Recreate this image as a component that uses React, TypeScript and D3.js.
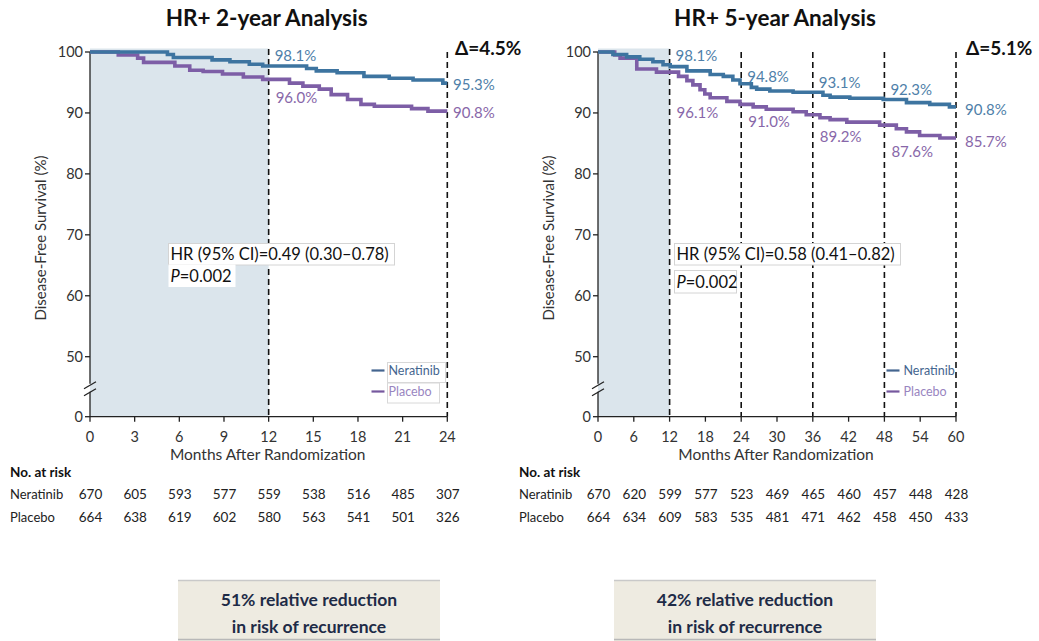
import React from "react";
import * as d3 from "d3";

const W = 1039;
const H = 641;
const FONT = "Lato, 'Open Sans', sans-serif";

// ---------- data ----------
const yTicks = [0, 50, 60, 70, 80, 90, 100];

const months2y = [0, 3, 6, 9, 12, 15, 18, 21, 24];
const neratinibRisk2y = [670, 605, 593, 577, 559, 538, 516, 485, 307];
const placeboRisk2y = [664, 638, 619, 602, 580, 563, 541, 501, 326];

const months5y = [0, 6, 12, 18, 24, 30, 36, 42, 48, 54, 60];
const neratinibRisk5y = [670, 620, 599, 577, 523, 469, 465, 460, 457, 448, 428];
const placeboRisk5y = [664, 634, 609, 583, 535, 481, 471, 462, 458, 450, 433];

// Kaplan–Meier step curves [month, DFS %]
const neratinib2y: [number, number][] = [
  [0, 100], [5.2, 99.6], [5.6, 99.1], [8.2, 98.7], [9.4, 98.4], [10.7, 98.0], [11.6, 97.7],
  [14.55, 97.3], [15.2, 96.9], [16.6, 96.6], [18.4, 96.0], [20.1, 95.7], [21.7, 95.4],
  [23.7, 94.9], [24, 94.9],
];
const placebo2y: [number, number][] = [
  [0, 100], [1.9, 99.5], [3.2, 99.0], [3.6, 98.3], [5.7, 97.7], [6.7, 97.0], [7.6, 96.8],
  [8.9, 96.4], [10.3, 95.9], [11.6, 95.5], [13.4, 94.9], [14.3, 94.4], [15.4, 93.9],
  [16.2, 93.0], [17.3, 92.2], [18.2, 91.4], [19.1, 91.1], [21.6, 90.7], [22.7, 90.3], [24, 90.3],
];
const neratinib5y: [number, number][] = [
  [0, 100], [2.5, 99.6], [4.8, 99.2], [7.0, 98.8], [9.2, 98.4], [10.9, 97.9], [12.1, 97.6],
  [14.9, 96.9], [18.8, 96.3], [21, 96.0], [22.6, 95.4], [23.8, 94.8], [25.7, 94.2],
  [26.6, 93.9], [28.8, 93.6], [32.7, 93.4], [37.7, 92.9], [38.9, 92.6], [42.2, 92.4],
  [47.8, 92.2], [51.7, 91.7], [55.6, 91.4], [58.9, 91.0], [60, 91.0],
];
const placebo5y: [number, number][] = [
  [0, 100], [2.8, 99.5], [3.7, 99.0], [6.5, 97.2], [9.8, 96.7], [13.5, 96.0], [14.9, 95.3],
  [15.9, 94.6], [17.1, 93.8], [17.9, 93.1], [18.8, 92.5], [21.6, 91.9], [23.8, 91.4],
  [26.0, 91.0], [28.2, 90.6], [32.7, 90.2], [34.9, 89.7], [37.2, 89.2], [38.9, 88.9],
  [41.7, 88.5], [47.2, 88.0], [50, 87.4], [51.7, 86.9], [53.9, 86.3], [57.3, 85.9], [60, 85.9],
];

// landmark annotations [month, text, label centre y]
const labels2yNer: [number, string, number][] = [[12, "98.1%", 56], [24, "95.3%", 85]];
const labels2yPla: [number, string, number][] = [[12, "96.0%", 98], [24, "90.8%", 113]];
const labels5yNer: [number, string, number][] = [
  [12, "98.1%", 56], [24, "94.8%", 77], [36, "93.1%", 83], [48, "92.3%", 90], [60, "90.8%", 110],
];
const labels5yPla: [number, string, number][] = [
  [12, "96.1%", 113], [24, "91.0%", 122], [36, "89.2%", 137], [48, "87.6%", 152], [60, "85.7%", 142],
];

const COL_NER = "#3d74a0";
const COL_PLA = "#7d5ea6";
const TXT_NER = "#4f7fa9";
const TXT_PLA = "#8867a9";
const SHADE = "#dbe5ec";
const AXIS = "#222";

const Y_TOP = 52;
const Y_ZERO = 416.7;
const Y_FIFTY = 356.7;

type PanelProps = {
  left: number;
  right: number;
  maxMonth: number;
  months: number[];
  dashed: number[];
  title: string;
  delta: string;
  ner: [number, number][];
  pla: [number, number][];
  nerRisk: number[];
  plaRisk: number[];
  nerLabels: [number, string, number][];
  plaLabels: [number, string, number][];
  hr: string;
  hrBox: [number, number];
  pBoxW: number;
  pBoxGap: number;
  legendX: number;
  legendBoxes: boolean;
  tableLeft: number;
  deltaX: number;
  endLabelX: number;
};

function Panel(p: PanelProps) {
  const x = d3.scaleLinear().domain([0, p.maxMonth]).range([p.left, p.right]);
  const y = d3.scaleLinear().domain([0, 50, 100]).range([Y_ZERO, Y_FIFTY, Y_TOP]);
  const line = d3
    .line<[number, number]>()
    .x((d) => x(d[0]))
    .y((d) => y(d[1]))
    .curve(d3.curveStepAfter);
  const cx = (p.left + p.right) / 2;
  const brk = y(25);
  return (
    <g fontFamily={FONT}>
      {/* title */}
      <text x={cx - 2} y={26} textAnchor="middle" fontWeight="bold" fontSize={22.5} fill="#111">
        {p.title}
      </text>
      <text x={p.deltaX} y={55} fontWeight="bold" fontSize={19} fill="#111">
        {p.delta}
      </text>
      {/* shaded first year */}
      <rect x={x(0)} y={48.5} width={x(12) - x(0)} height={Y_ZERO - 48.5} fill={SHADE} />
      {/* dashed lines */}
      {p.dashed.map((m) => (
        <line key={m} x1={x(m)} x2={x(m)} y1={m === 12 ? 49 : 52} y2={Y_ZERO} stroke="#111" strokeWidth={1.6} strokeDasharray="6,4" />
      ))}
      {/* y axis */}
      <line x1={x(0)} x2={x(0)} y1={y(100)} y2={brk - 3} stroke={AXIS} strokeWidth={1.3} />
      <line x1={x(0)} x2={x(0)} y1={brk + 5} y2={Y_ZERO} stroke={AXIS} strokeWidth={1.3} />
      <line x1={x(0) - 6} x2={x(0) + 6} y1={brk + 2} y2={brk - 5} stroke={AXIS} strokeWidth={1.3} />
      <line x1={x(0) - 6} x2={x(0) + 6} y1={brk + 9} y2={brk + 2} stroke={AXIS} strokeWidth={1.3} />
      {yTicks.map((t) => (
        <g key={t}>
          <line x1={x(0) - 5} x2={x(0)} y1={y(t)} y2={y(t)} stroke={AXIS} strokeWidth={1.3} />
          <text x={x(0) - 7} y={y(t)} dy="0.35em" textAnchor="end" fontSize={14.5} fill="#333">
            {t}
          </text>
        </g>
      ))}
      <text
        transform={`translate(${x(0) - 44},238) rotate(-90)`}
        textAnchor="middle"
        fontSize={15}
        fill="#333"
      >
        Disease-Free Survival (%)
      </text>
      {/* x axis */}
      <line x1={x(0)} x2={x(p.maxMonth)} y1={Y_ZERO} y2={Y_ZERO} stroke={AXIS} strokeWidth={1.3} />
      {p.months.map((m) => (
        <g key={m}>
          <line x1={x(m)} x2={x(m)} y1={Y_ZERO} y2={Y_ZERO + 5} stroke={AXIS} strokeWidth={1.3} />
          <text x={x(m)} y={437} dy="0.35em" textAnchor="middle" fontSize={14.5} fill="#333">
            {m}
          </text>
        </g>
      ))}
      <text x={cx - 1} y={455} dy="0.35em" textAnchor="middle" fontSize={15.5} fill="#333">
        Months After Randomization
      </text>
      {/* curves */}
      <path d={line(p.pla) || ""} fill="none" stroke={COL_PLA} strokeWidth={3.6} />
      <path d={line(p.ner) || ""} fill="none" stroke={COL_NER} strokeWidth={3.6} />
      {/* landmark labels */}
      {p.nerLabels.map(([m, t, ly]) => (
        <text key={"n" + m} x={m === p.maxMonth ? p.endLabelX : x(m) + 6} y={ly} dy="0.35em" fontSize={15} fill={TXT_NER}>
          {t}
        </text>
      ))}
      {p.plaLabels.map(([m, t, ly]) => (
        <text key={"p" + m} x={m === p.maxMonth ? p.endLabelX : x(m) + 7} y={ly} dy="0.35em" fontSize={15} fill={TXT_PLA}>
          {t}
        </text>
      ))}
      {/* HR box */}
      <rect x={p.hrBox[0]} y={243.5} width={p.hrBox[1]} height={21.5} fill="#fff" stroke="#d4d4d4" strokeWidth={1} />
      <rect x={p.hrBox[0]} y={264.5 + p.pBoxGap} width={p.pBoxW} height={22.5} fill="#fff" stroke={p.pBoxGap ? "#d4d4d4" : "none"} strokeWidth={1} />
      <text x={p.hrBox[0] + 2} y={254.5} dy="0.35em" fontSize={16.5} fill="#111">
        {p.hr}
      </text>
      <text x={p.hrBox[0] + 2} y={276 + p.pBoxGap} dy="0.35em" fontSize={16.5} fill="#111">
        <tspan fontStyle="italic">P</tspan>=0.002
      </text>
      {/* legend */}
      {p.legendBoxes && (
        <>
          <rect x={p.legendX + 16} y={362.5} width={58} height={20} fill="#fff" stroke="#d8d8d8" />
          <rect x={p.legendX + 16} y={383} width={52} height={20} fill="#fff" stroke="#d8d8d8" />
        </>
      )}
      <line x1={p.legendX} x2={p.legendX + 13} y1={370.5} y2={370.5} stroke="#44658f" strokeWidth={2.2} />
      <text x={p.legendX + 17} y={370.5} dy="0.35em" fontSize={12.5} fill="#44658f">
        Neratinib
      </text>
      <line x1={p.legendX} x2={p.legendX + 13} y1={391.5} y2={391.5} stroke="#76589e" strokeWidth={2.2} />
      <text x={p.legendX + 17} y={392} dy="0.35em" fontSize={12.5} fill="#9985bf">
        Placebo
      </text>
      {/* number at risk */}
      <text x={p.tableLeft} y={472} dy="0.35em" fontWeight="bold" fontSize={13.5} fill="#111">
        No. at risk
      </text>
      <text x={p.tableLeft} y={494} dy="0.35em" fontSize={13} fill="#222">
        Neratinib
      </text>
      <text x={p.tableLeft} y={517} dy="0.35em" fontSize={13} fill="#222">
        Placebo
      </text>
      {p.months.map((m, i) => (
        <g key={"r" + m}>
          <text x={x(m) + 0.5} y={494} dy="0.35em" textAnchor="middle" fontSize={13.5} fill="#222">
            {p.nerRisk[i]}
          </text>
          <text x={x(m) + 0.5} y={517} dy="0.35em" textAnchor="middle" fontSize={13.5} fill="#222">
            {p.plaRisk[i]}
          </text>
        </g>
      ))}
    </g>
  );
}

function Callout({ x0, x1, l1, l2 }: { x0: number; x1: number; l1: string; l2: string }) {
  const c = (x0 + x1) / 2;
  return (
    <g fontFamily={FONT}>
      <rect x={x0} y={580} width={x1 - x0} height={61} fill="#eeebe1" />
      <line x1={x0} x2={x1} y1={580.5} y2={580.5} stroke="#c9c9c9" strokeWidth={1.5} />
      <line x1={x0} x2={x1} y1={639.5} y2={639.5} stroke="#b8b8b8" strokeWidth={1.5} />
      <text x={c} y={600} dy="0.35em" textAnchor="middle" fontWeight="bold" fontSize={17.5} fill="#1e2b47">
        {l1}
      </text>
      <text x={c} y={627} dy="0.35em" textAnchor="middle" fontWeight="bold" fontSize={17.5} fill="#1e2b47">
        {l2}
      </text>
    </g>
  );
}

export default function App() {
  return (
    <svg
      width={W}
      height={H}
      viewBox={`0 0 ${W} ${H}`}
      style={{ position: "absolute", left: 0, top: 0, background: "#fff" }}
    >
      <rect width={W} height={H} fill="#fff" />
      <Panel
        left={90}
        right={447.3}
        maxMonth={24}
        months={months2y}
        dashed={[12, 24]}
        title="HR+ 2-year Analysis"
        delta="Δ=4.5%"
        ner={neratinib2y}
        pla={placebo2y}
        nerRisk={neratinibRisk2y}
        plaRisk={placeboRisk2y}
        nerLabels={labels2yNer}
        plaLabels={labels2yPla}
        hr="HR (95% CI)=0.49 (0.30–0.78)"
        hrBox={[168.5, 226]}
        pBoxW={67}
        pBoxGap={0}
        legendX={371.5}
        legendBoxes={true}
        tableLeft={10}
        deltaX={455}
        endLabelX={453}
      />
      <Panel
        left={598}
        right={956}
        maxMonth={60}
        months={months5y}
        dashed={[12, 24, 36, 48, 60]}
        title="HR+ 5-year Analysis"
        delta="Δ=5.1%"
        ner={neratinib5y}
        pla={placebo5y}
        nerRisk={neratinibRisk5y}
        plaRisk={placeboRisk5y}
        nerLabels={labels5yNer}
        plaLabels={labels5yPla}
        hr="HR (95% CI)=0.58 (0.41–0.82)"
        hrBox={[674.5, 226]}
        pBoxW={62}
        pBoxGap={6}
        legendX={886.5}
        legendBoxes={false}
        tableLeft={519}
        deltaX={966}
        endLabelX={965}
      />
      <Callout x0={178} x1={440} l1="51% relative reduction" l2="in risk of recurrence" />
      <Callout x0={614} x1={876} l1="42% relative reduction" l2="in risk of recurrence" />
    </svg>
  );
}
